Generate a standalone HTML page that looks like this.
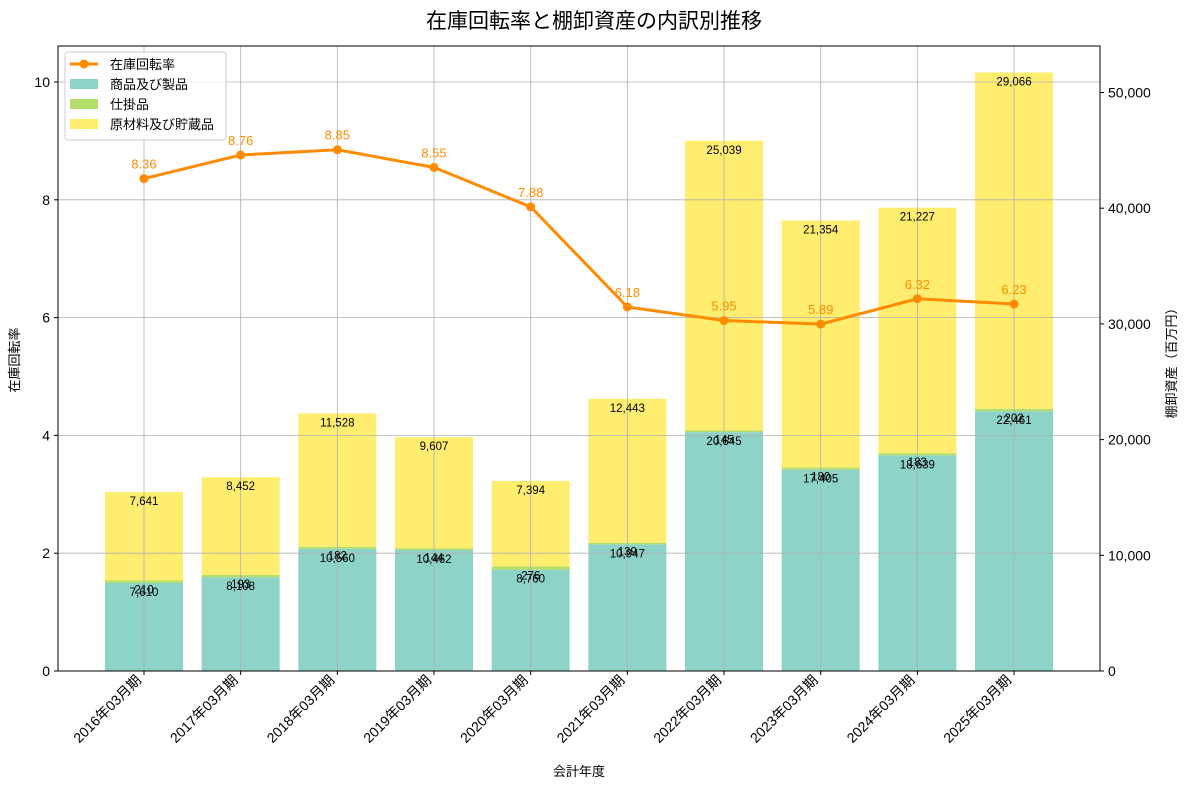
<!DOCTYPE html>
<html><head><meta charset="utf-8"><style>
body{margin:0;background:#fff;}
svg{display:block;font-family:"Liberation Sans","Noto Sans CJK JP",sans-serif;}
</style></head><body>
<svg id="c" width="1189" height="789"></svg>
<script>
const categories=["2016年03月期","2017年03月期","2018年03月期","2019年03月期","2020年03月期","2021年03月期","2022年03月期","2023年03月期","2024年03月期","2025年03月期"];
const goods=[7610,8108,10560,10462,8760,10947,20645,17405,18639,22461];
const wip=[210,193,182,144,276,139,145,180,183,202];
const materials=[7641,8452,11528,9607,7394,12443,25039,21354,21227,29066];
const turnover=[8.36,8.76,8.85,8.55,7.88,6.18,5.95,5.89,6.32,6.23];
const leftTicks=[0,2,4,6,8,10];
const rightTicks=[0,10000,20000,30000,40000,50000];

const NS="http://www.w3.org/2000/svg";
const svg=document.getElementById('c');
function el(t,a,p){const e=document.createElementNS(NS,t);for(const k in a)e.setAttribute(k,a[k]);(p||svg).appendChild(e);return e;}
const L=58,R=1100,T=46,B=671;
const K=0.01157;
const xc=i=>144+96.67*i;
const yR=v=>B-v*K;
const yL=v=>B-v*58.9;
const bw=78;
const fmt=v=>v.toLocaleString('en-US');

let t=el('text',{x:594,y:28,'text-anchor':'middle','font-size':21});t.textContent='在庫回転率と棚卸資産の内訳別推移';


categories.forEach((c,i)=>{
  const x=xc(i)-bw/2;
  const segs=[[goods[i],'#8dd3c7','goods'],[wip[i],'#b3de69','wip'],[materials[i],'#ffed6f','materials']];
  let base=0;
  segs.forEach(s=>{
    const r=el('rect',{x:x,y:yR(base+s[0]),width:bw,height:s[0]*K,fill:s[1]});
    
    base+=s[0];
  });
});
leftTicks.forEach(v=>{const g=el('line',{x1:L,x2:R,y1:yL(v),y2:yL(v),stroke:'#b0b0b0','stroke-width':0.8});});
categories.forEach((c,i)=>{const g=el('line',{x1:xc(i),x2:xc(i),y1:T,y2:B,stroke:'#b0b0b0','stroke-width':0.8});});
categories.forEach((c,i)=>{
  let base=0;
  [goods[i],wip[i],materials[i]].forEach(v=>{
    const tx=el('text',{x:xc(i),y:yR(base+v)+13,'text-anchor':'middle','font-size':11.5});
    tx.textContent=fmt(v);
    base+=v;
  });
});
const pts=turnover.map((v,i)=>xc(i)+','+yL(v)).join(' ');
const pl=el('polyline',{points:pts,fill:'none',stroke:'#ff8c00','stroke-width':3});

turnover.forEach((v,i)=>{
  const p=el('circle',{cx:xc(i),cy:yL(v),r:4.5,fill:'#ff8c00'});
  
  const tx=el('text',{x:xc(i),y:yL(v)-10,'text-anchor':'middle','font-size':13,fill:'#ff8c00'});
  tx.textContent=v.toFixed(2);
});
const fr=el('rect',{x:L,y:T,width:R-L,height:B-T,fill:'none',stroke:'#000','stroke-width':1});

leftTicks.forEach(v=>{
  el('line',{x1:L-4,x2:L,y1:yL(v),y2:yL(v),stroke:'#000'});
  const tx=el('text',{x:L-8,y:yL(v)+5,'text-anchor':'end','font-size':14});
  tx.textContent=v;
});
rightTicks.forEach(v=>{
  el('line',{x1:R,x2:R+4,y1:yR(v),y2:yR(v),stroke:'#000'});
  const tx=el('text',{x:R+8,y:yR(v)+5,'font-size':14});
  tx.textContent=fmt(v);
});
categories.forEach((c,i)=>{
  el('line',{x1:xc(i),x2:xc(i),y1:B,y2:B+4,stroke:'#000'});
  const ax=xc(i)-2, ay=B+10;
  const tx=el('text',{x:ax,y:ay,'text-anchor':'end','font-size':14,transform:`rotate(-45 ${ax} ${ay})`});
  tx.textContent=c;
});
t=el('text',{x:579,y:776,'text-anchor':'middle','font-size':13});t.textContent='会計年度';
t=el('text',{x:19,y:360,'text-anchor':'middle','font-size':13,transform:'rotate(-90 19 360)'});t.textContent='在庫回転率';
t=el('text',{x:1176,y:360,'text-anchor':'middle','font-size':13,transform:'rotate(-90 1176 360)'});t.textContent='棚卸資産（百万円）';
const lg=el('g',{});
el('rect',{x:65,y:52,width:161,height:88,rx:3,fill:'#fff','fill-opacity':0.85,stroke:'#ccc'},lg);
el('line',{x1:70,x2:98,y1:64,y2:64,stroke:'#ff8c00','stroke-width':3},lg);
el('circle',{cx:84,cy:64,r:4.5,fill:'#ff8c00'},lg);
[['商品及び製品','#8dd3c7'],['仕掛品','#b3de69'],['原材料及び貯蔵品','#ffed6f']].forEach((s,k)=>{
  el('rect',{x:70,y:79+k*20,width:28,height:10,fill:s[1]},lg);
});
['在庫回転率','商品及び製品','仕掛品','原材料及び貯蔵品'].forEach((s,k)=>{
  const tx=el('text',{x:110,y:69+k*20,'font-size':13},lg);tx.textContent=s;
  
});
</script>
</body></html>
